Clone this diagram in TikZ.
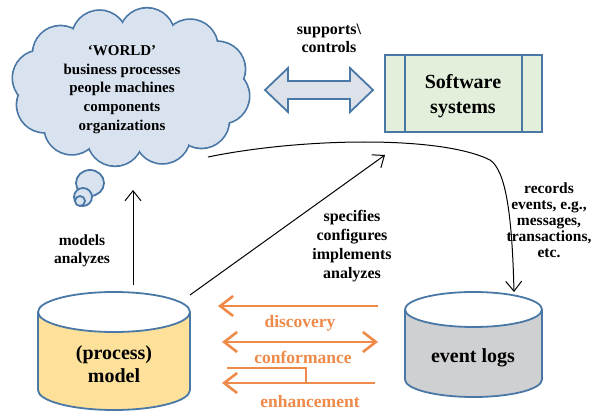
\documentclass[tikz,border=0pt]{standalone}
\usepackage{fontspec}
\setmainfont{Liberation Serif}
\usetikzlibrary{arrows.meta}
\definecolor{cloudf}{HTML}{D9E3EF}
\definecolor{blueb}{HTML}{4A78A6}
\definecolor{swf}{HTML}{E3EFDB}
\definecolor{orng}{HTML}{EE8A4A}
\definecolor{logf}{HTML}{CFD0D2}
\definecolor{modf}{HTML}{FDE19A}
\definecolor{arrf}{HTML}{DCE1EA}
\tikzset{
  lbl/.style={font=\fontsize{15.5}{18.5}\selectfont\bfseries, align=center, inner sep=0pt},
  olbl/.style={font=\fontsize{17.5}{20}\selectfont\bfseries, text=orng, inner sep=0pt},
  blk/.style={line width=1pt, -{Straight Barb[length=10pt,width=16pt]}},
  oarr/.style={draw=orng, line width=2.6pt, -{Straight Barb[length=13pt,width=20pt]}},
  oarr2/.style={draw=orng, line width=2.6pt, {Straight Barb[length=13pt,width=20pt]}-{Straight Barb[length=13pt,width=20pt]}},
  shp/.style={draw=blueb, line width=1.8pt}
}
\begin{document}
\begin{tikzpicture}[x=1pt,y=-1pt]
\useasboundingbox (0,0) rectangle (598,412);
\fill[white] (0,0) rectangle (598,412);
% thought bubbles
\draw[shp, fill=cloudf] (90,183) ellipse[x radius=14, y radius=13];
\draw[shp, fill=cloudf] (83,197) circle[radius=9];
\draw[shp, fill=cloudf] (80,201) circle[radius=5];
% cloud
\foreach \k in {0,...,11}
  \draw[shp, fill=cloudf] ({131+92*cos(\k*30+10)}, {87+52*sin(\k*30+10)}) circle[radius=28];
\foreach \k in {0,...,11}
  \fill[cloudf] ({131+92*cos(\k*30+10)}, {87+52*sin(\k*30+10)}) circle[radius=27.1];
\fill[cloudf] (131,87) ellipse[x radius=92, y radius=52];
\node[lbl, font=\fontsize{15}{18.75}\selectfont\bfseries] (world) at (122,89.5) {`WORLD'\\business processes\\people machines\\components\\organizations};
% double arrow
\draw[shp, fill=arrf, line join=miter] (265,90) -- (288,68) -- (288,81) -- (350,81) -- (350,68) -- (373,90) -- (350,112) -- (350,99) -- (288,99) -- (288,112) -- cycle;
\node[lbl, font=\fontsize{16}{18}\selectfont\bfseries] (sup) at (329,38) {supports\textbackslash\\controls};
% software systems
\draw[shp, fill=swf] (385,55) rectangle (542,132);
\draw[shp] (405,55) -- (405,132) (522,55) -- (522,132);
\node[lbl, font=\fontsize{20}{25}\selectfont\bfseries] (sw) at (463,96) {Software\\systems};
% model cylinder
\fill[modf] (38,312) -- (38,390) arc[start angle=180, end angle=0, x radius=76, y radius=20] -- (190,312) arc[start angle=0, end angle=180, x radius=76, y radius=20] -- cycle;
\draw[shp] (38,312) -- (38,390) arc[start angle=180, end angle=0, x radius=76, y radius=20] -- (190,312);
\draw[shp] (114,312) ellipse[x radius=76, y radius=20];
\node[lbl, font=\fontsize{20}{23}\selectfont\bfseries] (model) at (114,364) {(process)\\model};
% event logs cylinder
\fill[logf] (405,309.5) -- (405,379.5) arc[start angle=180, end angle=0, x radius=68.5, y radius=17.5] -- (542,309.5) arc[start angle=0, end angle=180, x radius=68.5, y radius=17.5] -- cycle;
\draw[shp] (405,309.5) -- (405,379.5) arc[start angle=180, end angle=0, x radius=68.5, y radius=17.5] -- (542,309.5);
\draw[shp] (473.5,309.5) ellipse[x radius=68.5, y radius=17.5];
\node[lbl, font=\fontsize{20}{23}\selectfont\bfseries] (logs) at (473,358) {event logs};
% black connectors
\coordinate (mtop) at (133,285);
\coordinate (wbot) at (133,190);
\draw[blk] (mtop) -- (wbot);
\node[lbl] (models) at (82,251) {models\\analyzes};
\coordinate (mdiag) at (190,295);
\coordinate (swdiag) at (385,155);
\draw[blk] (mdiag) -- (swdiag);
\node[lbl, font=\fontsize{16}{19}\selectfont\bfseries] (spec) at (352,246) {specifies\\configures\\implements\\analyzes};
\coordinate (wright) at (208,157);
\coordinate (mid) at (490,160);
\coordinate (ltop) at (514,292);
\draw[blk] (wright) .. controls (300,138) and (440,135) .. (mid) .. controls (505,170) and (512,210) .. (ltop);
\node[lbl, font=\fontsize{15.5}{16}\selectfont\bfseries] (rec) at (549,220) {records\\events, e.g.,\\messages,\\transactions,\\etc.};
% orange arrows
\coordinate (d1) at (378,306); \coordinate (d2) at (218,306);
\draw[oarr] (d1) -- (d2);
\node[olbl] (disc) at (300,323) {discovery};
\coordinate (c1) at (222,342); \coordinate (c2) at (378,342);
\draw[oarr2] (c1) -- (c2);
\node[olbl] (conf) at (303,357) {conformance};
\coordinate (e0) at (227,368); \coordinate (e1) at (306,368); \coordinate (e2) at (306,383);
\draw[draw=orng, line width=2.6pt] (e0) -- (e1) -- (e2);
\coordinate (e3) at (375,383); \coordinate (e4) at (222,383);
\draw[oarr] (e3) -- (e4);
\node[olbl] (enh) at (310,402) {enhancement};
\end{tikzpicture}
\end{document}
